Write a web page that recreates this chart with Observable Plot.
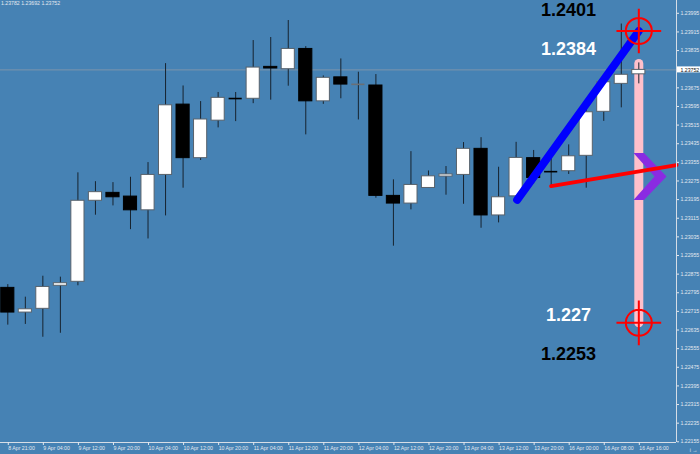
<!DOCTYPE html>
<html>
<head>
<meta charset="utf-8">
<script src="https://cdn.jsdelivr.net/npm/d3@7"></script>
<script src="https://cdn.jsdelivr.net/npm/@observablehq/plot@0.6"></script>
<style>
  html, body { margin: 0; padding: 0; background: #4682B4; }
  #chart { width: 700px; height: 454px; overflow: hidden; }
</style>
</head>
<body>
<div id="chart"></div>
<script>
// ---- data ----
const xLabels = ["8 Apr 21:00","9 Apr 04:00","9 Apr 12:00","9 Apr 20:00","10 Apr 04:00","10 Apr 12:00","10 Apr 20:00","11 Apr 04:00","11 Apr 12:00","11 Apr 20:00","12 Apr 04:00","12 Apr 12:00","12 Apr 20:00","13 Apr 04:00","13 Apr 12:00","13 Apr 20:00","16 Apr 00:00","16 Apr 08:00","16 Apr 16:00"];
const yTicks = [1.23995,1.23915,1.23835,1.23755,1.23675,1.23595,1.23515,1.23435,1.23355,1.23275,1.23195,1.23115,1.23035,1.22955,1.22875,1.22795,1.22715,1.22635,1.22555,1.22475,1.22395,1.22315,1.22235,1.22155];
const opens  = [1.22816,1.22710,1.22726,1.22825,1.22842,1.23190,1.23224,1.23208,1.23149,1.23301,1.23603,1.23373,1.23534,1.23631,1.23628,1.23765,1.23755,1.23842,1.23617,1.23720,1.23690,1.23685,1.23211,1.23178,1.23245,1.23294,1.23301,1.23413,1.23127,1.23209,1.23373,1.23318,1.23317,1.23383,1.23572,1.23692,1.23733];
const highs  = [1.22830,1.22776,1.22866,1.22862,1.23310,1.23272,1.23268,1.23291,1.23354,1.23779,1.23683,1.23616,1.23655,1.23655,1.23878,1.23891,1.23964,1.23852,1.23726,1.23799,1.23742,1.23732,1.23280,1.23401,1.23318,1.23337,1.23440,1.23461,1.23334,1.23441,1.23406,1.23377,1.23430,1.23591,1.23720,1.23949,1.23782];
const lows   = [1.22656,1.22659,1.22604,1.22621,1.22825,1.23128,1.23168,1.23066,1.23026,1.23125,1.23244,1.23363,1.23503,1.23530,1.23607,1.23622,1.23682,1.23473,1.23604,1.23628,1.23537,1.23201,1.22995,1.23151,1.23244,1.23214,1.23175,1.23072,1.23095,1.23198,1.23263,1.23247,1.23303,1.23244,1.23531,1.23589,1.23692];
const closes = [1.22710,1.22724,1.22820,1.22836,1.23190,1.23227,1.23205,1.23149,1.23301,1.23600,1.23373,1.23539,1.23632,1.23629,1.23762,1.23758,1.23842,1.23617,1.23718,1.23689,1.23690,1.23211,1.23178,1.23258,1.23295,1.23303,1.23413,1.23127,1.23205,1.23374,1.23288,1.23315,1.23381,1.23570,1.23699,1.23731,1.23752];
const currentPrice = 1.23752;
// annotation objects (bar index, price)
const blueTrend = [{i: 29.06, p: 1.23194}, {i: 36.0, p: 1.23919}];
const redRay = [{i: 31.0, p: 1.23253}, {i: 38.15, p: 1.23343}];
const pinkBar = [{i: 36.0, p: 1.23780}, {i: 36.0, p: 1.22666}];
const targets = [{i: 36.0, p: 1.23919}, {i: 36.0, p: 1.22666}];
const chevronAt = [{i: 36.61, p: 1.23294}];
const labelValues = [1.2401, 1.2384, 1.227, 1.2253];

// ---- scales ----
const xMin = -0.4165, xMax = 38.15, yMin = 1.22152, yMax = 1.2405;
const plotW = 676, plotH = 442;
const pxX = (xMax - xMin) / plotW, pxY = (yMax - yMin) / plotH;

const candles = opens.map((o, i) => ({i, o, h: highs[i], l: lows[i], c: closes[i]}));
const isDoji = d => Math.abs(d.c - d.o) < 0.00003;
const bulls = candles.filter(d => !isDoji(d) && d.c > d.o);
const bears = candles.filter(d => !isDoji(d) && d.c < d.o);
const dojis = candles.filter(isDoji);
const half = 0.375;

const crosshair = {
  draw(ctx, size) {
    const r = Math.sqrt(size / Math.PI);
    ctx.moveTo(r, 0);
    ctx.arc(0, 0, r, 0, 2 * Math.PI);
    const L = r * 1.72;
    ctx.moveTo(-L, 0); ctx.lineTo(L, 0);
    ctx.moveTo(0, -L); ctx.lineTo(0, L);
  }
};
const chevron = {
  draw(ctx, size) {
    const s = Math.sqrt(size / Math.PI) / 24;
    ctx.moveTo(-16 * s, -23.5 * s);
    ctx.lineTo(-5.5 * s, -23.5 * s);
    ctx.lineTo(17 * s, 0);
    ctx.lineTo(-5.5 * s, 23.5 * s);
    ctx.lineTo(-16 * s, 23.5 * s);
    ctx.lineTo(5 * s, 0);
    ctx.closePath();
  }
};

const last = candles[candles.length - 1];
const ohlcText = `${last.h.toFixed(5)} ${last.l.toFixed(5)} ${last.c.toFixed(5)}`;
const axisColor = "#e3e8ef";
const labelX = 31.99;

const chart = Plot.plot({
  width: 700,
  height: 454,
  marginLeft: 0,
  marginRight: 24,
  marginTop: 0,
  marginBottom: 12,
  style: {background: "#4682B4", fontFamily: "'Liberation Sans', Arial, sans-serif", overflow: "visible"},
  x: {domain: [xMin, xMax]},
  y: {domain: [yMin, yMax]},
  marks: [
    Plot.ruleY([currentPrice], {stroke: "#7d94ab", strokeWidth: 1}),
    Plot.line(pinkBar, {x: "i", y: "p", stroke: "#ffc0cb", strokeWidth: 9, strokeLinecap: "round"}),
    Plot.ruleX(candles, {x: "i", y1: "l", y2: "h", stroke: "#17232f", strokeWidth: 1}),
    Plot.rect(bulls, {x1: d => d.i - half, x2: d => d.i + half, y1: "o", y2: "c", fill: "white", stroke: "#58626c", strokeWidth: 1}),
    Plot.rect(bears, {x1: d => d.i - half, x2: d => d.i + half, y1: "o", y2: "c", fill: "black", stroke: "black", strokeWidth: 1}),
    Plot.ruleY(dojis, {y: "c", x1: d => d.i - half, x2: d => d.i + half, stroke: d => d.c > d.o ? "#222" : (d.c < d.o ? "#000" : "#6a6f75"), strokeWidth: 1.6}),
    Plot.line(blueTrend, {x: "i", y: "p", stroke: "#0000ff", strokeWidth: 8, strokeLinecap: "round"}),
    Plot.dot(chevronAt, {x: "i", y: "p", r: 24, symbol: chevron, fill: "#8a2be2", stroke: "none"}),
    Plot.line(redRay, {x: "i", y: "p", stroke: "#ff0000", strokeWidth: 4}),
    Plot.dot(targets, {x: "i", y: "p", r: 13, symbol: crosshair, fill: "none", stroke: "#ff0000", strokeWidth: 2}),
    Plot.text(labelValues, {x: () => labelX, y: d => d, text: d => String(d), fill: (d, k) => (k === 0 || k === 3) ? "#000000" : "#ffffff", fontSize: 18, fontWeight: "bold"}),
    Plot.ruleX([xMax], {stroke: "#d6dde6", strokeWidth: 1}),
    Plot.ruleY([yMin], {stroke: "#d6dde6", strokeWidth: 1}),
    Plot.axisX(xLabels.map((_, k) => 2 * k), {anchor: "bottom", tickSize: 3, tickPadding: 1, textAnchor: "start", dx: 0.5, tickFormat: d => xLabels[d / 2], fontSize: 5.2, color: axisColor}),
    Plot.axisY(yTicks, {anchor: "right", tickSize: 2, tickPadding: 2, tickFormat: d => d.toFixed(5), fontSize: 5.2, color: axisColor}),
    Plot.rect([currentPrice], {x1: xMax + pxX, x2: xMax + 25 * pxX, y1: d => d - 3 * pxY, y2: d => d + 3 * pxY, fill: "white"}),
    Plot.text([currentPrice], {x: xMax, y: d => d, dx: 4, textAnchor: "start", text: d => d.toFixed(5), fill: "#111", fontSize: 5.2}),
    Plot.text([ohlcText], {frameAnchor: "top-left", textAnchor: "start", lineAnchor: "top", dx: 0.5, dy: 1, text: d => d, fill: axisColor, fontSize: 5.2})
  ],
  color: {type: "identity"}
});
document.getElementById("chart").appendChild(chart);
</script>
</body>
</html>
